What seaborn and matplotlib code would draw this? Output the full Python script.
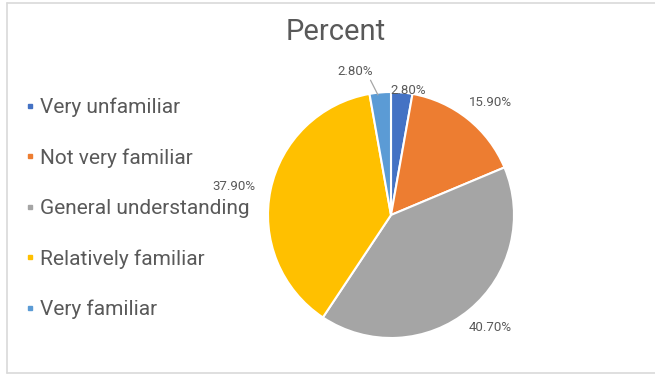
import numpy as np
import matplotlib
matplotlib.use("Agg")
import matplotlib.pyplot as plt
from matplotlib.lines import Line2D
import seaborn as sns

categories = ["Very unfamiliar", "Not very familiar", "General understanding",
              "Relatively familiar", "Very familiar"]
percent = [2.8, 15.9, 40.7, 37.9, 2.8]
value_labels = ["2.80%", "15.90%", "40.70%", "37.90%", "2.80%"]
colors = ["#4472C4", "#ED7D31", "#A5A5A5", "#FFC000", "#5B9BD5"]

sns.set_theme(style="white")
plt.rcParams["font.family"] = ["Roboto", "DejaVu Sans"]

W, H = 655, 378
fig = plt.figure(figsize=(W / 100, H / 100), dpi=100)
fig.patch.set_facecolor("white")

# thin light frame around the chart area
frame_color = "#D9D9D9"
fig.add_artist(Line2D([7 / W, 7 / W], [1 - 3 / H, 1 - 373 / H], color=frame_color, lw=1.2))
fig.add_artist(Line2D([7 / W, 1], [1 - 3 / H, 1 - 3 / H], color=frame_color, lw=1.2))
fig.add_artist(Line2D([7 / W, 1], [1 - 373 / H, 1 - 373 / H], color=frame_color, lw=1.2))

# pie axes: centre ~(391, 215) px, radius ~123 px
cx, cy, r = 391, 215, 123
ax = fig.add_axes([(cx - r) / W, (H - cy - r) / H, 2 * r / W, 2 * r / H])
wedges, _ = ax.pie(percent, colors=colors, startangle=90, counterclock=False,
                   wedgeprops=dict(edgecolor="white", linewidth=1.5))
ax.set_aspect("equal")
ax.set_xlim(-1, 1)
ax.set_ylim(-1, 1)

# value labels placed around the wedge mid-angles
label_font = dict(family=["Roboto", "DejaVu Sans"], fontsize=9.5, color="#595959")
dist = [1.02, 1.22, 1.22, 1.30, 1.20]
nudge = [-3, -3, 2, 1.5, 9]
for w, lab, d, dn in zip(wedges, value_labels, dist, nudge):
    ang = np.deg2rad((w.theta1 + w.theta2) / 2 + dn)
    ax.text(d * np.cos(ang), d * np.sin(ang), lab, ha="center", va="center",
            clip_on=False, **label_font)

# leader line for the small "Very familiar" slice
w5 = wedges[4]
a5 = np.deg2rad((w5.theta1 + w5.theta2) / 2)
ax.plot([0.98 * np.cos(a5) - 0.02, 1.10 * np.cos(a5) - 0.07],
        [0.98 * np.sin(a5), 1.10 * np.sin(a5)], color="#A6A6A6", lw=0.9, clip_on=False)

# title
fig.text(336 / W, 1 - 32 / H, "Percent", ha="center", va="center",
         fontsize=21, color="#595959")

# legend on the left
handles = [Line2D([0], [0], marker="s", color="none", markerfacecolor=c,
                  markeredgecolor=c, markersize=3) for c in colors]
fig.legend(handles, categories, loc="upper left", bbox_to_anchor=(16 / W, 1 - 87 / H),
           frameon=False, fontsize=15, labelcolor="#595959", handlelength=0.35,
           handletextpad=0.3, labelspacing=1.5, borderpad=0)

fig.savefig("out.png", dpi=100, facecolor="white")
